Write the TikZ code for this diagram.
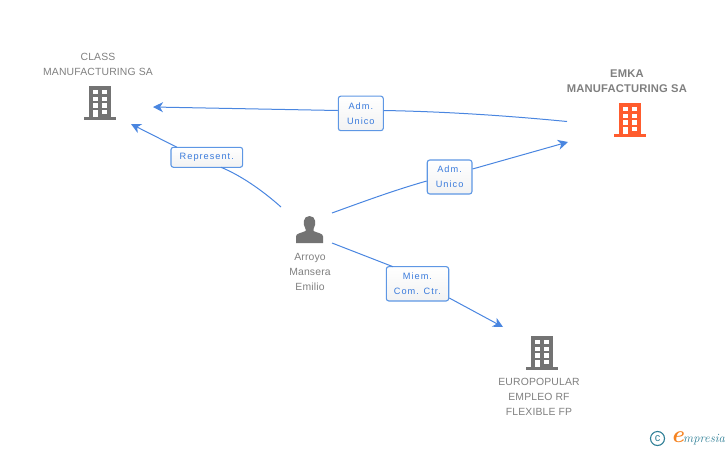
\documentclass[tikz,border=0pt]{standalone}
\usepackage{fontspec}
\usetikzlibrary{arrows.meta,shadings}
\setmainfont{Liberation Sans}
\newfontfamily\entfont[LetterSpace=1.5]{Liberation Sans}
\newfontfamily\lblfont[LetterSpace=11]{Liberation Sans}
\newfontfamily\logofont{Latin Modern Roman}
\definecolor{linkblue}{HTML}{4A86E0}
\definecolor{boxblue}{HTML}{5E97E4}
\definecolor{txtblue}{HTML}{3A7BDC}
\definecolor{entgrey}{HTML}{7F7F7F}
\definecolor{icongrey}{HTML}{737373}
\definecolor{iconorange}{HTML}{FF5C2E}
\definecolor{logoteal}{HTML}{2F7F96}
\definecolor{logoorange}{HTML}{F58220}
\tikzset{
  x=1pt,y=-1pt,
  link/.style={draw=linkblue,line width=1pt},
  linkarrow/.style={link,-{Stealth[length=10pt,width=10pt,inset=3pt]}},
  rolebox/.style={draw=boxblue,line width=1.1pt,rounded corners=2.5pt,top color=white,bottom color=white!95!black,
    text=txtblue,align=center,inner sep=0pt,font=\lblfont\fontsize{9.2}{15}\selectfont},
  entity/.style={text=entgrey,align=center,inner sep=0pt,font=\entfont\fontsize{10.4}{15}\selectfont},
  bldg/.pic={
    \fill[pic actions] (5,0) rectangle (27,32);
    \fill[pic actions] (0,31.3) rectangle (31.7,34);
    \foreach \yy in {4,10.7,17.3}{
      \fill[white] (8.4,\yy) rectangle (13.4,\yy+4.3);
      \fill[white] (18,\yy) rectangle (23,\yy+4.3);
    }
    \fill[white] (8.4,24) rectangle (13.4,31.3);
    \fill[white] (18,24) rectangle (23,28.3);
  }
}
\begin{document}
\begin{tikzpicture}
\useasboundingbox (0,0) rectangle (728,450);
% entity labels
\node[entity] (class) at (98,64.5) {CLASS\\MANUFACTURING SA};
\node[entity,font=\entfont\fontsize{11.2}{15}\selectfont] (emka) at (627,81) {\textbf{EMKA}\\\textbf{MANUFACTURING SA}};
\node[entity] (arroyo) at (310,272) {Arroyo\\Mansera\\Emilio};
\node[entity] (euro) at (539,397) {EUROPOPULAR\\EMPLEO RF\\FLEXIBLE FP};
% icons
\pic[fill=icongrey] at (84.3,86) {bldg};
\pic[fill=iconorange] at (614.3,103) {bldg};
\pic[fill=icongrey] at (526.3,336) {bldg};
\fill[icongrey] (296,243) -- (296,236.5) .. controls (296,233) and (302,233) .. (305.5,231)
  -- (305.5,229) .. controls (302.5,224) and (303,216) .. (309.5,216)
  .. controls (316,216) and (316.5,224) .. (313.5,229) -- (313.5,231)
  .. controls (317,233) and (323,233) .. (323,236.5) -- (323,243) -- cycle;
% connector ends
\coordinate (emkaIn) at (567,121.5);
\coordinate (classA) at (153,107);
\coordinate (classB) at (131,124);
\coordinate (emkaB) at (568,142);
\coordinate (euroIn) at (503,327);
\coordinate (p1) at (281,207);
\coordinate (p2) at (332,213);
\coordinate (p3) at (332,243);
% role boxes
\node[rolebox,minimum width=45pt,minimum height=34.5pt] (r1) at (360.8,113.4) {Adm.\\Unico};
\node[rolebox,minimum width=44.7pt,minimum height=34pt] (r2) at (449.6,177) {Adm.\\Unico};
\node[rolebox,minimum width=71.7pt,minimum height=20pt] (r3) at (206.8,157.3) {Represent.};
\node[rolebox,minimum width=62.4pt,minimum height=34.3pt] (r4) at (417.5,283.8) {Miem.\\Com. Ctr.};
% connectors
\draw[link] (emkaIn) .. controls (500,115) and (440,111.5) .. (r1.east |- 0,110.5);
\draw[linkarrow] (r1.west |- 0,110.5) -- (classA);
\draw[link] (p1) .. controls (262,190) and (240,175) .. (221,167.3);
\draw[linkarrow] (177,147.3) -- (classB);
\draw[link] (p2) .. controls (365,201) and (395,190) .. (r2.west |- 0,181);
\draw[linkarrow] (r2.east |- 0,169) -- (emkaB);
\draw[link] (p3) -- (393,266.7);
\draw[linkarrow] (r4.east |- 0,298) -- (euroIn);
% logo
\node[draw=logoteal,line width=1.1pt,circle,minimum size=14pt,inner sep=0pt,text=logoteal,font=\fontsize{11}{11}\selectfont] (copy) at (657.5,438.5) {c};
\node[text=logoorange,inner sep=0pt,font=\logofont\bfseries\itshape\fontsize{24}{24}\selectfont] (logoE) at (677.5,437) {e};
\node[anchor=west,text=logoteal,inner sep=0pt,font=\logofont\itshape\fontsize{12.6}{12.6}\selectfont] (logoT) at (683,439.5) {mpresia};
\end{tikzpicture}
\end{document}
